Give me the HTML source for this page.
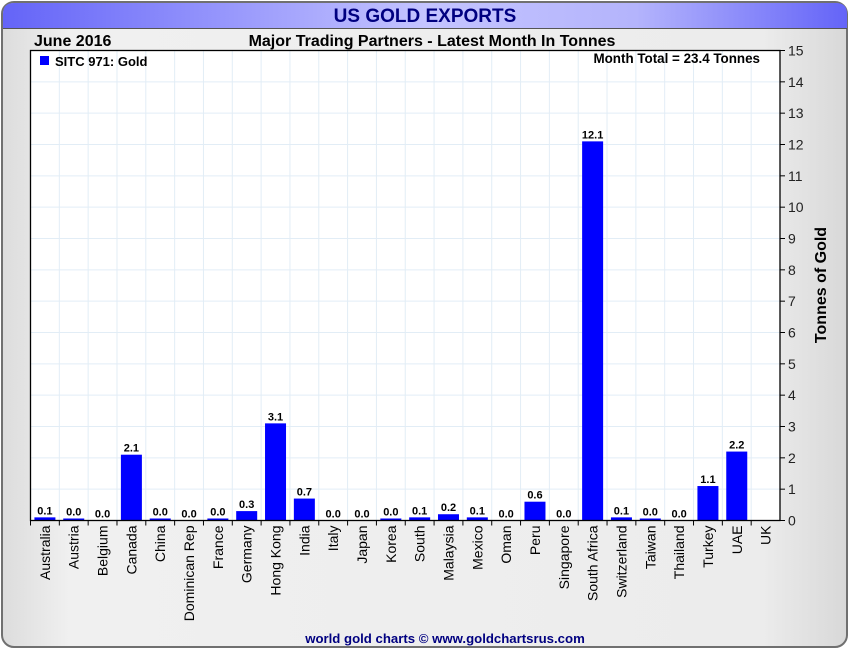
<!DOCTYPE html>
<html><head><meta charset="utf-8"><style>
html,body{margin:0;padding:0;background:#fff;}
body{width:850px;height:650px;overflow:hidden;font-family:"Liberation Sans",sans-serif;}
</style></head><body>
<svg id="chart" width="850" height="650" xmlns="http://www.w3.org/2000/svg">
<defs>
<linearGradient id="bg" x1="0" x2="1" y1="0" y2="0"><stop offset="0" stop-color="#dcdcdc"/><stop offset="0.08" stop-color="#f0f0f0"/><stop offset="0.9" stop-color="#ececec"/><stop offset="1" stop-color="#d8d8d8"/></linearGradient>
<linearGradient id="tb" x1="0" x2="1" y1="0" y2="0"><stop offset="0" stop-color="#6464f8"/><stop offset="0.5" stop-color="#c4c4ff"/><stop offset="0.75" stop-color="#b4b4fc"/><stop offset="1" stop-color="#6464f8"/></linearGradient>
</defs>
<rect x="2" y="2" width="845" height="645" rx="12" fill="url(#bg)" stroke="#707070" stroke-width="2"/>
<path d="M3 28 L3 14 Q3 3 14 3 L836 3 Q847 3 847 14 L847 28 Z" fill="url(#tb)"/>
<line x1="3" y1="28.5" x2="847" y2="28.5" stroke="#555" stroke-width="1"/>
<text x="425" y="22" text-anchor="middle" font-size="19" font-weight="bold" fill="#000080">US GOLD EXPORTS</text>
<text x="34" y="46" font-size="16" font-weight="bold" fill="#000">June 2016</text>
<text x="432" y="46" text-anchor="middle" font-size="16" font-weight="bold" fill="#000">Major Trading Partners - Latest Month In Tonnes</text>
<rect x="30.5" y="50.5" width="749.5" height="470" fill="#fff"/>
<g id="grid"></g>
<g id="bars"></g>
<rect x="30.5" y="50.5" width="749.5" height="470" fill="none" stroke="#000" stroke-width="1.3"/>
<g id="axes"></g>
<rect x="40" y="56" width="9" height="9" fill="#0000ff"/>
<text x="55" y="66" font-size="13" font-weight="bold">SITC 971: Gold</text>
<text x="760" y="63" text-anchor="end" font-size="13.4" font-weight="bold">Month Total = 23.4 Tonnes</text>
<text transform="translate(826,285) rotate(-90)" text-anchor="middle" font-size="16" font-weight="bold">Tonnes of Gold</text>
<text x="445" y="643" text-anchor="middle" font-size="13.2" font-weight="bold" fill="#000080">world gold charts © www.goldchartsrus.com</text>
</svg>
<script>
const categories=["Australia","Austria","Belgium","Canada","China","Dominican Rep","France","Germany","Hong Kong","India","Italy","Japan","Korea","South","Malaysia","Mexico","Oman","Peru","Singapore","South Africa","Switzerland","Taiwan","Thailand","Turkey","UAE","UK"];
const values=[0.1,0.02,0,2.1,0.02,0,0.02,0.3,3.1,0.7,0,0,0.02,0.1,0.2,0.1,0,0.6,0,12.1,0.1,0.05,0,1.1,2.2,null];
const valueLabels=["0.1","0.0","0.0","2.1","0.0","0.0","0.0","0.3","3.1","0.7","0.0","0.0","0.0","0.1","0.2","0.1","0.0","0.6","0.0","12.1","0.1","0.0","0.0","1.1","2.2",""];
const yTicks=[0,1,2,3,4,5,6,7,8,9,10,11,12,13,14,15];
const NS="http://www.w3.org/2000/svg";
const L=30.5,R=780,T=50.5,B=520.5,yMax=15;
const bw=(R-L)/categories.length;
function y(v){return B-(v/yMax)*(B-T);}
function xc(i){return L+bw*(i+0.5);}
function mk(tag,at,parent){const e=document.createElementNS(NS,tag);for(const k in at)e.setAttribute(k,at[k]);parent.appendChild(e);return e;}
const grid=document.getElementById('grid'),bars=document.getElementById('bars'),axes=document.getElementById('axes');
yTicks.forEach(t=>{
  if(t>0&&t<yMax){const g=mk('line',{x1:L,x2:R,y1:y(t),y2:y(t),stroke:'#e2edf6','stroke-width':1},grid);
  
  }
  mk('line',{x1:R,x2:R+5,y1:y(t),y2:y(t),stroke:'#000'},axes);
  const tx=mk('text',{x:R+8,y:y(t)+5,'font-size':14,fill:'#222'},axes);
  tx.textContent=t;
  
  
});
categories.forEach((c,i)=>{
  const bx=L+bw*i;
  if(i>0){const g=mk('line',{x1:bx,x2:bx,y1:T,y2:B,stroke:'#e2edf6'},grid);
  
  }
  mk('line',{x1:bx,x2:bx,y1:B,y2:B+5,stroke:'#000'},axes);
  const lab=mk('text',{transform:`translate(${xc(i)+5},${B+5}) rotate(-90)`,'text-anchor':'end','font-size':14,fill:'#000'},axes);
  lab.textContent=c;
  
  
  const v=values[i];
  if(v!==null){
    const h=Math.max(B-y(v),v>0?2:0);
    const r=mk('rect',{x:xc(i)-10.5,y:B-h,width:21,height:h,fill:'#0000ff'},bars);
    
    
    const t=mk('text',{x:xc(i),y:B-h-3,'text-anchor':'middle','font-size':11,'font-weight':'bold',fill:'#000'},bars);
    t.textContent=valueLabels[i];
    
    
  }
});
mk('line',{x1:R,x2:R+5,y1:B,y2:B,stroke:'#000'},axes);
</script>
</body></html>
